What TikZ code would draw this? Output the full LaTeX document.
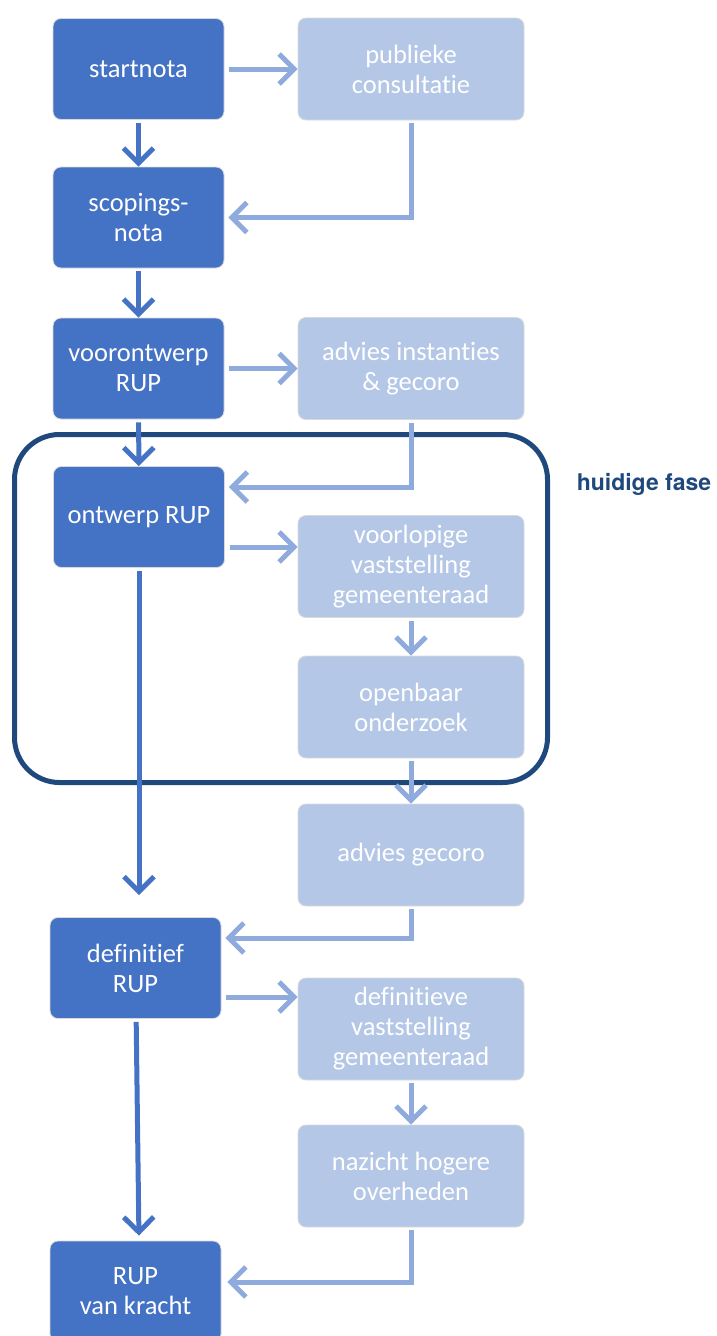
\documentclass[tikz,border=0pt]{standalone}
\usepackage{fontspec}
\setmainfont{Carlito}[Ligatures=NoCommon]
\newfontfamily\phasefont{TeX Gyre Heros}
\usetikzlibrary{arrows.meta}

\definecolor{stepdark}{HTML}{4472C4}
\definecolor{steplight}{HTML}{B4C7E7}
\definecolor{linelight}{HTML}{8FAADC}
\definecolor{phaseblue}{HTML}{1F497D}

\tikzstyle{mainstep} = [rectangle,rounded corners=8pt,fill=stepdark,draw=white!85!black,line width=0.8pt,minimum width=171pt,minimum height=101pt,inner sep=0pt,text=white,align=center,font=\fontsize{26.5}{30}\selectfont]
\tikzstyle{sidestep} = [mainstep,fill=steplight,minimum width=226pt,minimum height=102pt]
\tikzstyle{darkarrow} = [line width=5pt,draw=stepdark,-{Straight Barb[length=15pt,width=30pt]},shorten <=3pt]
\tikzstyle{lightarrow} = [darkarrow,draw=linelight]

\begin{document}
\begin{tikzpicture}[x=1pt,y=-1pt]

	\useasboundingbox (0,0) rectangle (717,1336);

	% huidige fase
	\node (phase) at (281,608.5) [draw=phaseblue,line width=5pt,rounded corners=45pt,minimum width=533pt,minimum height=348pt] {};
	\node (phaselabel) at (644,484) [text=phaseblue,font=\phasefont\bfseries\fontsize{23}{26}\selectfont] {huidige fase};

	% hoofdlijn
	\node (start) at (138.5,69) [mainstep] {startnota};
	\node (scop) at (138.5,217.5) [mainstep] {scopings-\\nota};
	\node (voor) at (138.5,368.5) [mainstep] {voorontwerp\\RUP};
	\node (ontw) at (139,517) [mainstep] {ontwerp RUP};
	\node (defn) at (135.5,968) [mainstep] {definitief\\RUP};
	\node (kracht) at (135.5,1291.5) [mainstep] {RUP\\van kracht};

	% zijlijn
	\node (pub) at (411,69) [sidestep] {publieke\\consultatie};
	\node (adv) at (411,368.5) [sidestep] {advies instanties\\\& gecoro};
	\node (vlop) at (411,566.5) [sidestep] {voorlopige\\vaststelling\\gemeenteraad};
	\node (openb) at (411,707) [sidestep] {openbaar\\onderzoek};
	\node (advg) at (411,855) [sidestep] {advies gecoro};
	\node (defv) at (411,1029) [sidestep] {definitieve\\vaststelling\\gemeenteraad};
	\node (naz) at (411,1176) [sidestep] {nazicht hogere\\overheden};

	\coordinate (ontw_out) at ([yshift=-30pt]ontw.east);
	\coordinate (defn_out) at ([yshift=-29pt]defn.east);
	\coordinate (defn_stop) at ([yshift=22pt]ontw.south |- defn.north);

	% hoofdlijn
	\draw[darkarrow] (start) -- (scop);
	\draw[darkarrow] (scop) -- (voor);
	\draw[darkarrow] (voor) -- (ontw);
	\draw[darkarrow] (ontw.south) -- (defn_stop);
	\draw[darkarrow,shorten >=5pt] (defn) -- ([xshift=3.5pt]kracht.north);

	% zijlijn
	\draw[lightarrow,shorten <=5pt] (start) -- (pub);
	\draw[lightarrow,shorten <=5pt] (voor) -- (adv);
	\draw[lightarrow,shorten <=5pt] (ontw_out) -- (vlop.west |- ontw_out);
	\draw[lightarrow,shorten <=5pt] (defn_out) -- (defv.west |- defn_out);
	\draw[lightarrow] (vlop) -- (openb);
	\draw[lightarrow] (openb) -- (advg);
	\draw[lightarrow] (defv) -- (naz);

	% terug naar hoofdlijn
	\draw[lightarrow,shorten >=4pt] (pub) |- (scop);
	\draw[lightarrow,shorten >=4pt] (adv) |- ([yshift=30pt]ontw.east);
	\draw[lightarrow,shorten >=4pt] (advg) |- ([yshift=30pt]defn.east);
	\draw[lightarrow,shorten >=6pt] (naz) |- ([yshift=9.5pt]kracht.east);

\end{tikzpicture}
\end{document}
